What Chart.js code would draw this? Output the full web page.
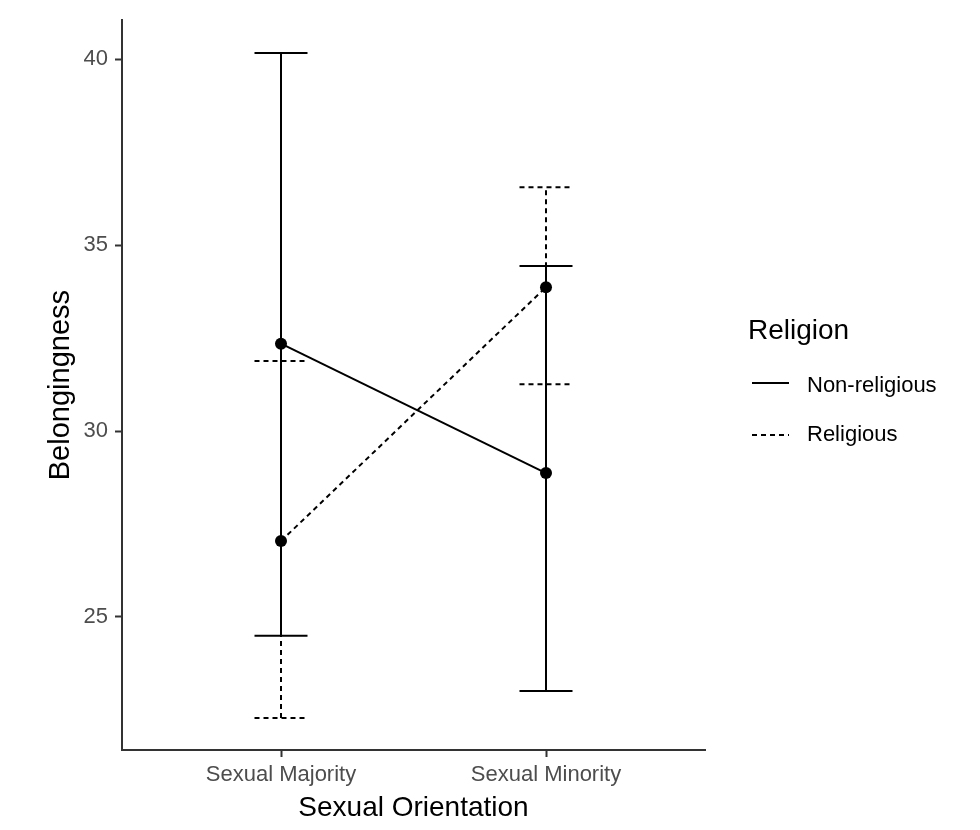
<!DOCTYPE html>
<html>
<head>
<meta charset="utf-8">
<script src="https://cdn.jsdelivr.net/npm/chart.js@4/dist/chart.umd.min.js"></script>
<style>
  body { margin: 0; background: #fff; font-family: "Liberation Sans", Arial, sans-serif; }
  #wrap { position: relative; width: 980px; height: 830px; }
  .lg { position: absolute; color: #000; white-space: nowrap; }
  .lg-title { left: 748px; top: 316px; font-size: 28px; line-height: 28px; }
  .lg-text { left: 807px; font-size: 22px; line-height: 22px; }
  .lg-key { position: absolute; left: 752px; }
</style>
</head>
<body>
<div id="wrap">
  <canvas id="chart" width="980" height="830"></canvas>
  <div class="lg lg-title">Religion</div>
  <svg class="lg-key" style="top:381px" width="37" height="4"><line x1="0" y1="2" x2="37" y2="2" stroke="#000" stroke-width="2"/></svg>
  <div class="lg lg-text" style="top:374px">Non-religious</div>
  <svg class="lg-key" style="top:433px" width="37" height="4"><line x1="0" y1="2" x2="37" y2="2" stroke="#000" stroke-width="2" stroke-dasharray="5,4"/></svg>
  <div class="lg lg-text" style="top:423px">Religious</div>
</div>
<script>
var categories = ['Sexual Majority', 'Sexual Minority'];
var xPositions = [1, 2];
var yTicks = [25, 30, 35, 40];

var nonRelMean = [32.35, 28.87];
var nonRelLower = [24.49, 23.01];
var nonRelUpper = [40.17, 34.44];

var relMean = [27.04, 33.87];
var relLower = [22.28, 31.26];
var relUpper = [31.88, 36.56];

var capHalf = 0.1;
var dashPattern = [5, 4];
var fontFamily = '"Liberation Sans", Arial, sans-serif';

function toPoints(means) {
    var pts = [];
    for (var i = 0; i < means.length; i++) {
        pts.push({ x: xPositions[i], y: means[i] });
    }
    return pts;
}

// error bars drawn through the chart scales
var errorBarPlugin = {
    id: 'errorBars',
    beforeDatasetsDraw: function (chart) {
        var ctx = chart.ctx;
        var xs = chart.scales.x, ys = chart.scales.y;
        chart.data.datasets.forEach(function (ds) {
            ctx.save();
            ctx.strokeStyle = '#000';
            ctx.lineWidth = 2;
            ctx.setLineDash(ds.borderDash || []);
            for (var i = 0; i < ds.lower.length; i++) {
                var xc = xs.getPixelForValue(xPositions[i]);
                var xl = xs.getPixelForValue(xPositions[i] - capHalf);
                var xr = xs.getPixelForValue(xPositions[i] + capHalf);
                var yl = ys.getPixelForValue(ds.lower[i]);
                var yu = ys.getPixelForValue(ds.upper[i]);
                ctx.beginPath();
                ctx.moveTo(xc, yl); ctx.lineTo(xc, yu);
                ctx.moveTo(xl, yl); ctx.lineTo(xr, yl);
                ctx.moveTo(xl, yu); ctx.lineTo(xr, yu);
                ctx.stroke();
            }
            ctx.restore();
        });
    }
};

var ctx = document.getElementById('chart').getContext('2d');
var chart = new Chart(ctx, {
    type: 'line',
    data: {
        datasets: [{
            label: 'Non-religious',
            data: toPoints(nonRelMean),
            lower: nonRelLower,
            upper: nonRelUpper,
            borderColor: '#000',
            backgroundColor: '#000',
            borderWidth: 2,
            pointRadius: 6,
            pointBackgroundColor: '#000',
            pointBorderWidth: 0
        }, {
            label: 'Religious',
            data: toPoints(relMean),
            lower: relLower,
            upper: relUpper,
            borderColor: '#000',
            backgroundColor: '#000',
            borderWidth: 2,
            borderDash: dashPattern,
            pointRadius: 6,
            pointBackgroundColor: '#000',
            pointBorderWidth: 0
        }]
    },
    options: {
        responsive: false,
        animation: false,
        layout: { padding: { top: 20, right: 275, left: 0, bottom: 0 } },
        plugins: { legend: { display: false }, tooltip: { enabled: false } },
        scales: {
            x: {
                type: 'linear',
                min: 0.4,
                max: 2.6,
                afterBuildTicks: function (axis) {
                    axis.ticks = xPositions.map(function (v) { return { value: v }; });
                },
                afterFit: function (axis) { axis.height = 80; },
                ticks: {
                    color: '#4d4d4d',
                    font: { family: fontFamily, size: 22 },
                    padding: 5,
                    callback: function (v) { return categories[xPositions.indexOf(v)]; }
                },
                grid: { drawOnChartArea: false, drawTicks: true, tickLength: 7, tickColor: '#333', tickWidth: 2 },
                border: { color: '#333', width: 2 },
                title: {
                    display: true,
                    text: 'Sexual Orientation',
                    color: '#000',
                    font: { family: fontFamily, size: 28 },
                    padding: { top: 0, bottom: 5 }
                }
            },
            y: {
                type: 'linear',
                min: 21.42,
                max: 41.05,
                afterBuildTicks: function (axis) {
                    axis.ticks = yTicks.map(function (v) { return { value: v }; });
                },
                afterFit: function (axis) { axis.width = 122; },
                ticks: {
                    color: '#4d4d4d',
                    font: { family: fontFamily, size: 22 },
                    padding: 7
                },
                grid: { drawOnChartArea: false, drawTicks: true, tickLength: 7, tickColor: '#333', tickWidth: 2 },
                border: { color: '#333', width: 2 },
                title: {
                    display: true,
                    text: 'Belongingness',
                    color: '#000',
                    font: { family: fontFamily, size: 29 },
                    padding: { top: 44, bottom: 0 }
                }
            }
        }
    },
    plugins: [errorBarPlugin]
});
</script>
</body>
</html>
